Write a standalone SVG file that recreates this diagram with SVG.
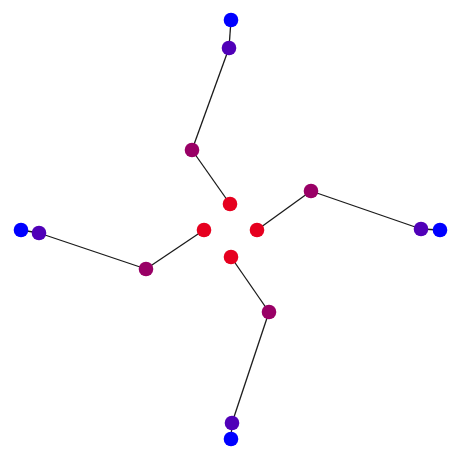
<svg xmlns="http://www.w3.org/2000/svg" width="461" height="461" viewBox="0 0 461 461">
<style>
.e{stroke:#1a1a1a;stroke-width:1.3;fill:none}
.r{fill:#e6001f}
.m{fill:#990066}
.p{fill:#5000b8}
.b{fill:#0000ff}
</style>
<rect width="461" height="461" fill="#fff"/>
<g id="edges">
<line class="e" x1="230" y1="204" x2="192" y2="150"/>
<line class="e" x1="192" y1="150" x2="229" y2="48"/>
<line class="e" x1="229" y1="48" x2="231" y2="20"/>
<line class="e" x1="257" y1="230" x2="311" y2="191"/>
<line class="e" x1="311" y1="191" x2="421" y2="229"/>
<line class="e" x1="421" y1="229" x2="440" y2="230"/>
<line class="e" x1="204" y1="230" x2="146" y2="269"/>
<line class="e" x1="146" y1="269" x2="39" y2="233"/>
<line class="e" x1="39" y1="233" x2="21" y2="230"/>
<line class="e" x1="231" y1="257" x2="269" y2="312"/>
<line class="e" x1="269" y1="312" x2="232" y2="423"/>
<line class="e" x1="232" y1="423" x2="231" y2="439"/>
</g>
<g id="n1"><circle class="r" cx="230" cy="204" r="7.3"/></g>
<g id="n2"><circle class="r" cx="257" cy="230" r="7.3"/></g>
<g id="n3"><circle class="r" cx="204" cy="230" r="7.3"/></g>
<g id="n4"><circle class="r" cx="231" cy="257" r="7.3"/></g>
<g id="n5"><circle class="m" cx="192" cy="150" r="7.3"/></g>
<g id="n6"><circle class="m" cx="311" cy="191" r="7.3"/></g>
<g id="n7"><circle class="m" cx="146" cy="269" r="7.3"/></g>
<g id="n8"><circle class="m" cx="269" cy="312" r="7.3"/></g>
<g id="n9"><circle class="p" cx="229" cy="48" r="7.3"/></g>
<g id="n10"><circle class="p" cx="421" cy="229" r="7.3"/></g>
<g id="n11"><circle class="p" cx="39" cy="233" r="7.3"/></g>
<g id="n12"><circle class="p" cx="232" cy="423" r="7.3"/></g>
<g id="n13"><circle class="b" cx="231" cy="20" r="7.3"/></g>
<g id="n14"><circle class="b" cx="440" cy="230" r="7.3"/></g>
<g id="n15"><circle class="b" cx="21" cy="230" r="7.3"/></g>
<g id="n16"><circle class="b" cx="231" cy="439" r="7.3"/></g>
</svg>
